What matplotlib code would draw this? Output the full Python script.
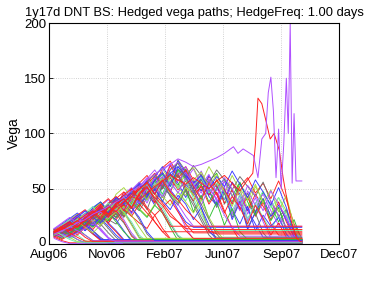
import matplotlib
matplotlib.use("Agg")
import matplotlib.pyplot as plt
import matplotlib.transforms as mtransforms
from itertools import cycle

plt.rcParams['font.family'] = ['Liberation Sans', 'DejaVu Sans']

# sampling days (days after 1 Aug 2006), one sample every 12 days
grid_days = list(range(8, 393, 12))
end_day = 392

tick_days = [0, 90, 180, 270, 360, 450]
tick_labels = ['Aug06', 'Nov06', 'Feb07', 'Jun07', 'Sep07', 'Dec07']
y_ticks = [0, 50, 100, 150, 200]

# vega paths; a path stops where it is knocked out and
# keeps its last value until expiry
# early knock-outs
a1 = [8, 12, 7, 11, 15, 9, 4, 1]
a2 = [12, 16, 11, 18, 13, 19, 14, 6, 1.5]
a3 = [6, 3, 1]
a4 = [10, 15, 9, 17, 22, 16, 25, 19, 12, 4]
a5 = [9, 5, 10, 14, 8, 3, 0.5]
a6 = [13, 18, 12, 20, 26, 19, 29, 23, 31, 22, 10, 2]
a7 = [7, 11, 6, 2]
a8 = [11, 7, 13, 19, 14, 22, 27, 18, 11, 3]
a9 = [5, 2, 0.3]
a10 = [9, 14, 19, 12, 21, 27, 20, 30, 36, 25, 33, 22, 9, 2]
a11 = [14, 10, 6, 12, 17, 10, 4]
a12 = [8, 13, 17, 11, 24, 18, 26, 32, 24, 30, 18, 6, 3]
a13 = [10, 6, 9, 4, 1]
a14 = [12, 17, 22, 15, 28, 34, 24, 31, 38, 29, 20, 8, 2]
a15 = [6, 10, 14, 8, 15, 9, 3]
a16 = [11, 15, 20, 26, 19, 12, 5, 1]
a17 = [9, 13, 8, 16, 21, 28, 22, 14, 6, 0.5]
a18 = [7, 4, 8, 12, 6, 2]
a19 = [13, 9, 15, 21, 17, 24, 30, 35, 27, 19, 8, 1]
a20 = [10, 14, 18, 13, 20, 15, 22, 28, 20, 11, 4]
a21 = [12, 8, 4, 1.5]
a22 = [8, 12, 16, 21, 15, 10, 17, 23, 29, 34, 26, 15, 5]
a23 = [11, 16, 10, 6, 2.5]
a24 = [9, 13, 18, 24, 30, 25, 33, 28, 37, 41, 33, 24, 11, 3]
a25 = [14, 19, 24, 18, 27, 21, 12, 5, 2]
f1 = [8, 11, 15, 10, 17, 12, 6, 1]
f2 = [10, 14, 10, 15, 20, 25, 18, 10, 3]
f3 = [12, 9, 5, 8, 3, 0.5]
f4 = [7, 10, 13, 17, 12, 19, 23, 16, 8, 2]
f5 = [13, 16, 20, 15, 22, 27, 32, 25, 30, 20, 7, 1]
f6 = [9, 12, 8, 4, 1]
f7 = [11, 15, 18, 23, 27, 20, 26, 31, 37, 28, 17, 5]
f8 = [6, 9, 6, 10, 14, 18, 13, 5, 0.8]
f9 = [10, 13, 17, 21, 17, 24, 19, 27, 22, 12, 2]
f10 = [14, 11, 16, 12, 8, 3]

# knocked out in the middle of the life
b1 = [9, 14, 18, 13, 24, 30, 23, 36, 41, 33, 45, 38, 50, 41, 30, 18, 7, 2]
b2 = [11, 7, 13, 18, 12, 20, 27, 21, 31, 37, 28, 41, 47, 35, 52, 44, 31, 20, 15]
b3 = [7, 11, 15, 10, 18, 23, 16, 27, 33, 24, 36, 30, 42, 50, 38, 56, 62, 47, 35, 21, 8, 1]
b4 = [12, 16, 21, 25, 18, 29, 35, 24, 30, 38, 27, 43, 50, 39, 55, 44, 30, 15, 4]
b5 = [10, 15, 9, 17, 23, 27, 20, 33, 38, 29, 44, 36, 48, 55, 44, 62, 50, 58, 41, 27, 14, 12]
b6 = [8, 5, 10, 15, 20, 13, 22, 28, 34, 25, 37, 44, 33, 26, 14, 5]
b7 = [13, 18, 23, 28, 22, 33, 38, 30, 42, 36, 48, 54, 44, 58, 64, 52, 70, 61, 48, 33, 17, 4]
b8 = [9, 13, 8, 15, 21, 26, 31, 22, 18, 29, 36, 42, 31, 50, 57, 43, 35, 49, 38, 24, 11, 6]
b9 = [11, 16, 19, 24, 16, 22, 28, 19, 29, 35, 25, 19, 14, 26, 33, 40, 29, 18, 10]
b10 = [7, 10, 14, 19, 23, 28, 20, 31, 37, 42, 48, 39, 56, 63, 51, 67, 73, 60, 49, 36, 22, 9, 1]
b11 = [10, 6, 11, 16, 22, 17, 26, 21, 32, 27, 38, 31, 24, 35, 28, 15, 3]
b12 = [12, 17, 13, 19, 25, 31, 26, 35, 29, 39, 45, 37, 52, 46, 58, 49, 36, 25, 16]
b13 = [8, 12, 17, 22, 27, 20, 30, 37, 31, 42, 35, 49, 55, 41, 33, 20, 8, 3]
b14 = [11, 14, 9, 16, 13, 22, 18, 25, 33, 26, 38, 47, 40, 53, 59, 46, 38, 51, 45, 30, 13]
b15 = [9, 13, 18, 24, 19, 28, 34, 27, 22, 31, 25, 36, 28, 20, 11, 4]
e1 = [10, 7, 12, 17, 13, 21, 26, 19, 30, 36, 29, 42, 48, 38, 54, 60, 49, 57, 44, 52, 36, 47, 30, 14, 3]
e3 = [9, 13, 9, 15, 20, 26, 19, 29, 24, 35, 42, 34, 47, 39, 52, 45, 37, 50, 29, 44, 23, 38, 17, 32, 11, 4]
e5 = [8, 11, 14, 10, 16, 22, 28, 21, 31, 26, 37, 32, 25, 36, 43, 35, 47, 38, 28, 40, 24, 12, 3]
e7 = [10, 14, 19, 23, 17, 26, 21, 30, 37, 28, 40, 48, 37, 51, 43, 57, 46, 60, 48, 35, 51, 40, 26, 15, 7]
e11 = [8, 12, 16, 21, 17, 25, 31, 25, 34, 40, 46, 36, 43, 50, 39, 31, 44, 36, 22, 33, 12, 4]

# alive until close to expiry
c1 = [10, 15, 19, 24, 18, 30, 36, 28, 41, 47, 38, 55, 62, 51, 69, 75, 63, 70, 58, 48, 61, 52, 40, 55, 43, 30, 45, 34, 22, 38, 20, 6, 0.5]
c2 = [9, 13, 17, 12, 22, 27, 33, 25, 38, 44, 36, 50, 42, 58, 65, 54, 76, 66, 52, 63, 45, 58, 36, 49, 31, 46, 28, 41, 25, 33, 14, 4, 1]
c3 = [11, 8, 14, 19, 25, 19, 28, 34, 27, 39, 46, 37, 51, 57, 45, 62, 53, 68, 55, 41, 57, 64, 48, 38, 55, 42, 29, 47, 35, 20, 30, 9, 2]
c4 = [8, 12, 16, 11, 19, 24, 30, 36, 28, 40, 33, 46, 39, 52, 60, 48, 66, 57, 43, 60, 49, 35, 51, 26, 41, 19, 37, 24, 12, 27, 8, 3]
c5 = [12, 17, 22, 27, 20, 31, 37, 30, 45, 51, 42, 56, 49, 63, 68, 57, 51, 64, 69, 55, 70, 58, 45, 62, 48, 33, 52, 39, 26, 42, 30, 12, 4]
c6 = [10, 14, 18, 13, 21, 27, 32, 24, 35, 42, 48, 38, 53, 45, 58, 49, 40, 54, 46, 60, 47, 36, 50, 31, 18, 34, 12, 26, 16, 24, 9, 1]
c7 = [9, 14, 10, 16, 22, 17, 26, 33, 39, 31, 45, 52, 60, 49, 66, 73, 62, 70, 55, 46, 59, 38, 52, 27, 44, 21, 37, 45, 30, 17, 26, 5, 2]
c8 = [11, 16, 21, 26, 31, 24, 35, 41, 33, 47, 40, 52, 45, 37, 55, 47, 62, 50, 39, 53, 44, 58, 49, 36, 52, 60, 46, 55, 41, 57, 40, 18, 5]
c9 = [8, 12, 17, 22, 27, 21, 30, 36, 42, 34, 48, 55, 46, 61, 70, 59, 75, 64, 50, 60, 43, 35, 48, 22, 38, 13, 29, 41, 25, 35, 22, 7, 2]
c10 = [13, 10, 16, 21, 27, 32, 38, 29, 24, 35, 42, 49, 40, 57, 63, 52, 67, 59, 47, 54, 38, 50, 59, 43, 56, 38, 26, 40, 21, 33, 12, 22, 3]
c11 = [10, 15, 11, 18, 24, 30, 25, 36, 42, 35, 49, 56, 47, 60, 52, 68, 74, 61, 53, 66, 50, 41, 57, 44, 30, 48, 35, 21, 39, 26, 15, 4]
c12 = [9, 12, 16, 20, 15, 23, 29, 35, 28, 39, 32, 44, 52, 41, 56, 62, 51, 44, 58, 65, 52, 63, 47, 34, 50, 40, 54, 37, 49, 29, 44, 16, 3]
c13 = [12, 16, 13, 19, 25, 31, 26, 37, 43, 36, 50, 44, 57, 64, 53, 71, 60, 67, 52, 40, 55, 45, 28, 43, 33, 18, 35, 23, 8, 19, 6, 1]
c14 = [8, 11, 15, 20, 26, 20, 29, 24, 34, 41, 33, 47, 40, 54, 61, 49, 57, 65, 54, 42, 58, 48, 60, 50, 35, 53, 44, 30, 48, 36, 24, 8, 1]
e2 = [12, 15, 19, 14, 23, 18, 27, 33, 40, 31, 46, 53, 44, 58, 50, 64, 55, 42, 57, 48, 62, 51, 40, 56, 45, 31, 18, 6]
e4 = [11, 16, 20, 25, 30, 23, 34, 40, 32, 45, 51, 43, 59, 67, 56, 72, 65, 58, 68, 53, 63, 44, 57, 36, 50, 27, 42, 20, 5, 1]
e6 = [13, 17, 21, 16, 25, 30, 36, 31, 42, 38, 49, 43, 55, 61, 50, 63, 57, 66, 51, 59, 45, 54, 37, 49, 31, 43, 25, 38, 18, 8]
e8 = [9, 6, 11, 15, 21, 16, 24, 29, 35, 27, 39, 33, 45, 52, 42, 56, 63, 52, 45, 58, 49, 33, 46, 24, 39, 15, 28, 10, 2]
e9 = [11, 15, 12, 18, 14, 22, 28, 34, 26, 37, 44, 38, 51, 45, 60, 53, 68, 60, 71, 62, 55, 67, 58, 49, 61, 52, 43, 56, 38, 25, 31, 11, 2]
e10 = [12, 9, 14, 20, 25, 21, 29, 36, 30, 41, 35, 47, 55, 48, 62, 54, 47, 39, 53, 60, 46, 55, 41, 30, 45, 23, 36, 48, 33, 42, 26, 14, 1]
e12 = [10, 13, 17, 22, 28, 24, 33, 29, 38, 44, 37, 50, 57, 48, 55, 64, 70, 62, 55, 62, 50, 61, 52, 66, 54, 42, 58, 47, 35, 51, 33, 10, 3]

# knocked out with a residual vega (the flat red lines)
d1 = [10, 13, 17, 21, 16, 25, 30, 24, 35, 41, 33, 46, 52, 40, 28, 16]
d2 = [12, 16, 20, 15, 22, 27, 33, 26, 36, 41, 32, 45, 51, 42, 35, 25, 20, 14, 13]
d3 = [9, 13, 17, 21, 26, 30, 24, 34, 29, 38, 45, 50, 55, 45, 37, 28, 20, 12, 5]
d4 = [11, 15, 12, 18, 23, 28, 35, 27, 37, 44, 50, 40, 32, 20, 11]
d5 = [10, 14, 19, 15, 24, 29, 22, 33, 39, 30, 43, 49, 56, 45, 58, 47, 40, 31, 24, 17, 12, 9]

# the two paths that blow up close to expiry, sampled more finely
spike_purple_days = [8, 20, 32, 44, 56, 68, 80, 92, 104, 116, 128, 140, 152, 164, 176, 188, 200,
                     212, 224, 236, 248, 260, 272, 286, 293, 301, 309, 317, 324, 330, 336, 340,
                     344, 348, 352, 356, 360, 364, 368, 371, 374, 377, 380, 383, 386]
spike_purple = [9, 12, 15, 19, 22, 27, 30, 34, 38, 42, 48, 52, 58, 63, 68, 72, 77,
                74, 70, 72, 75, 78, 82, 88, 82, 86, 83, 80, 60, 95, 100, 137,
                151, 120, 60, 104, 50, 90, 150, 100, 200, 55, 118, 57, 57]
spike_red_days = [8, 20, 32, 44, 56, 68, 80, 92, 104, 116, 128, 140, 152, 164, 176, 188, 200,
                  212, 224, 236, 248, 260, 272, 284, 296, 308, 316, 320, 324, 330, 337, 343,
                  349, 357, 363, 369, 376, 384, 390]
spike_red = [11, 14, 12, 16, 21, 25, 30, 27, 33, 38, 43, 40, 46, 52, 57, 62, 58,
             54, 60, 55, 50, 57, 62, 55, 48, 58, 64, 90, 132, 127, 110, 95,
             100, 85, 60, 40, 20, 5, 2]

early = [a1, a2, f1, a3, a4, f2, a5, a6, f3, a7, a8, f4, a9, a10, f5, a11, a12, f6, a13,
         a14, f7, a15, a16, f8, a17, a18, f9, a19, a20, f10, a21, a22, a23, a24, a25]
middle = [b1, e1, b2, b3, e3, b4, b5, e5, b6, b7, e7, b8, b9, e11, b10, b11, b12, b13, b14, b15]
late = [c1, e2, c2, c3, e4, c4, c5, e6, c6, c7, e8, c8, c9, e9, c10, c11, e10, c12, c13, e12, c14]
residual = [d1, d2, d3, d4, d5]

palette = ['#ff2020', '#3a3aff', '#707070', '#30c030', '#b050ff', '#70f0b0',
           '#a8d840', '#ff2020', '#3a3aff', '#b050ff', '#707070']

fig = plt.figure(figsize=(3.74, 2.81), dpi=100)
ax = fig.add_axes([0.131, 0.132, 0.776, 0.786])

col = cycle(palette)
for group in (late, middle, early):
    for vals in group:
        xs = grid_days[:len(vals)] + [end_day]
        ys = vals + [vals[-1]]
        ax.plot(xs, ys, color=next(col), linewidth=0.65)
for vals in residual:
    ax.plot(grid_days[:len(vals)] + [end_day], vals + [vals[-1]], color='#ff2020', linewidth=0.65)

ax.plot(spike_red_days + [end_day], spike_red + [spike_red[-1]], color='#ff2020', linewidth=0.7)
ax.plot(spike_purple_days + [end_day], spike_purple + [spike_purple[-1]], color='#b050ff', linewidth=0.7)

ax.set_xlim(tick_days[0], tick_days[-1])
ax.set_ylim(0, 200)
ax.set_xticks(tick_days)
ax.set_xticklabels(tick_labels)
ax.set_yticks(y_ticks)
ax.tick_params(direction='in', length=3, width=0.6, labelsize=9.5)
ax.tick_params(axis='x', pad=4)
ax.tick_params(axis='y', pad=2)
ax.grid(True, linestyle=':', color='#c4c4c4', linewidth=0.6)
for s in ax.spines.values():
    s.set_linewidth(0.8)
ax.set_ylabel('Vega', fontsize=10, labelpad=2)
ax.set_title('1y17d DNT BS: Hedged vega paths; HedgeFreq: 1.00 days', fontsize=9.3, pad=5)

# lift the "0" label a touch so it clears the first date label
zero_lbl = ax.get_yticklabels()[0]
zero_lbl.set_transform(zero_lbl.get_transform() +
                       mtransforms.ScaledTranslation(0, 2 / 72, fig.dpi_scale_trans))

fig.savefig('out.png', dpi=100)
